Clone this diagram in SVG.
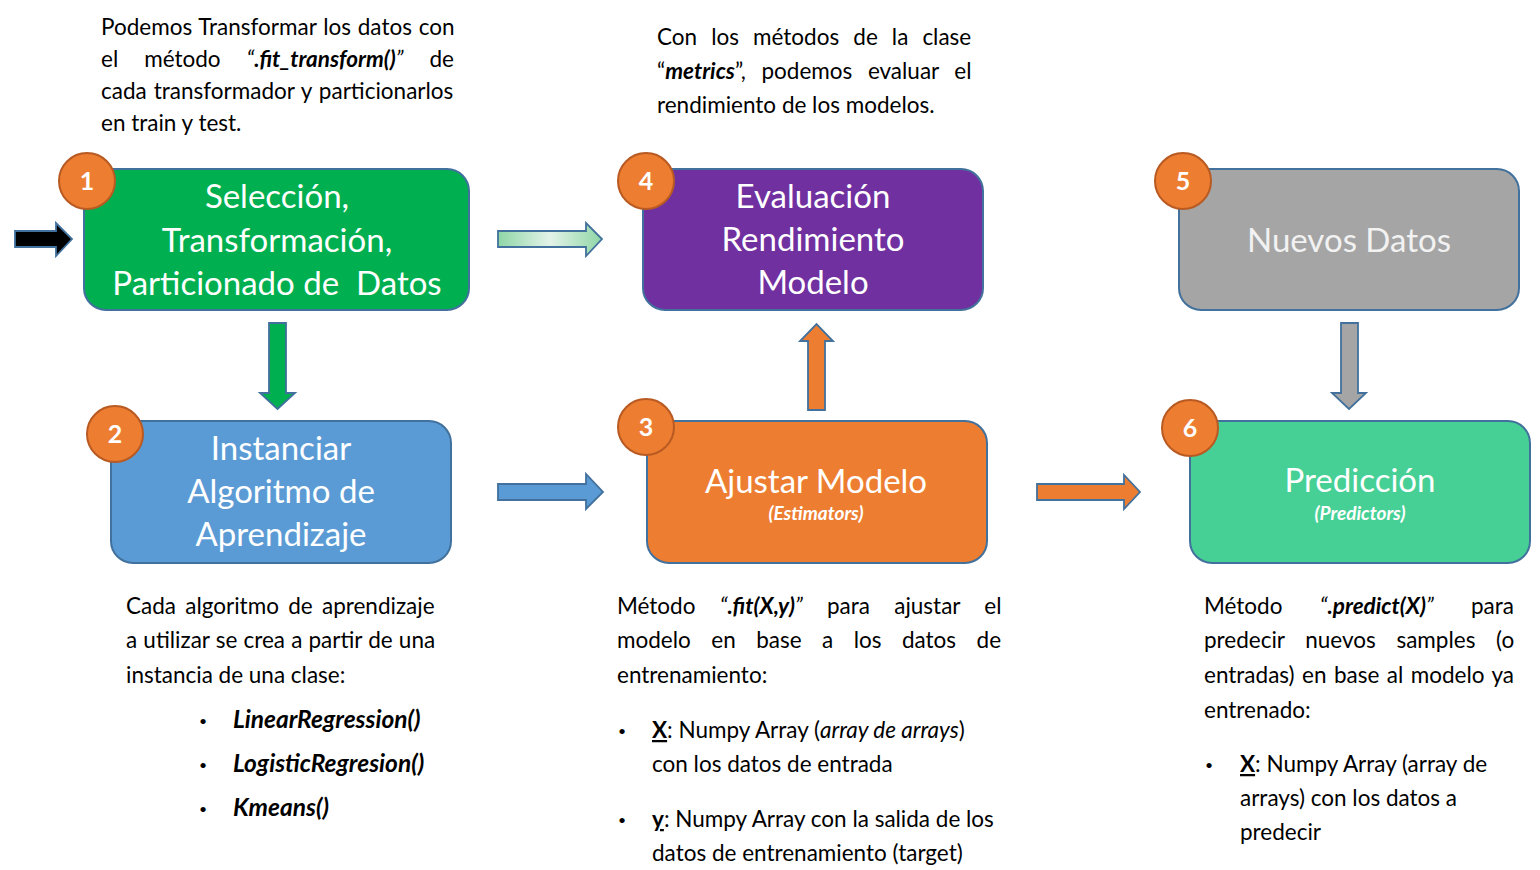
<svg xmlns="http://www.w3.org/2000/svg" width="1540" height="870" viewBox="0 0 1540 870">
<style>
.node{stroke:#41719C;stroke-width:2}
.badge circle{fill:#ED7D31;stroke:#B85A22;stroke-width:2}
.badge text{font-family:Lato,"Open Sans",sans-serif;font-weight:bold;font-size:25px;fill:#fff;text-anchor:middle}
.title{font-family:Lato,"Open Sans",sans-serif;font-size:33px;fill:#fff;text-anchor:middle}
.sub{font-family:Lato,"Open Sans",sans-serif;font-size:19px;font-weight:bold;font-style:italic;fill:#fff;text-anchor:middle}
.desc{font-family:Lato,"Open Sans",sans-serif;font-size:22.5px;fill:#000}
.bi{font-weight:bold;font-style:italic}
.big{font-size:24.5px}
.it{font-style:italic}
.bu{font-weight:bold;text-decoration:underline}
.dot{font-size:14px}
.arrow{stroke:#41719C;stroke-width:1.8}
</style>
<defs>
<linearGradient id="gg" x1="0" y1="0" x2="1" y2="0">
<stop offset="0" stop-color="#8FD6A6"/>
<stop offset="0.5" stop-color="#E3F3E8"/>
<stop offset="1" stop-color="#8FD6A6"/>
</linearGradient>
</defs>

<g id="connectors">
<polygon class="arrow" fill="#000" stroke="#203864" points="15,231 56,231 56,223 72,239 56,256 56,247 15,247"/>
<polygon class="arrow" fill="url(#gg)" points="498,231 586,231 586,223 602,239 586,256 586,247 498,247"/>
<polygon class="arrow" fill="#00B050" points="269,323 286,323 286,393 295,393 277.5,409 260,393 269,393"/>
<polygon class="arrow" fill="#5B9BD5" points="498,484 586,484 586,474 603,492 586,509 586,500 498,500"/>
<polygon class="arrow" fill="#ED7D31" points="808,410 825,410 825,341 833,341 816.5,324 800,341 808,341"/>
<polygon class="arrow" fill="#ED7D31" points="1037,484 1124,484 1124,475 1140,492 1124,509 1124,500 1037,500"/>
<polygon class="arrow" fill="#A5A5A5" points="1341,323 1358,323 1358,393 1366,393 1349,409 1332,393 1341,393"/>
</g>

<g id="node1">
<rect class="node" x="84" y="169" width="385" height="141" rx="22" fill="#00B050"/>
<text class="title" x="277" y="208">Selección,</text>
<text class="title" x="277" y="252">Transformación,</text>
<text class="title" x="277" y="295" xml:space="preserve">Particionado de  Datos</text>
<g class="badge"><circle cx="87" cy="181" r="28"/><text x="87" y="190">1</text></g>
</g>

<g id="node2">
<rect class="node" x="111" y="421" width="340" height="142" rx="22" fill="#5B9BD5"/>
<text class="title" x="281" y="460">Instanciar</text>
<text class="title" x="281" y="503">Algoritmo de</text>
<text class="title" x="281" y="546">Aprendizaje</text>
<g class="badge"><circle cx="115" cy="434" r="28"/><text x="115" y="443">2</text></g>
</g>

<g id="node3">
<rect class="node" x="647" y="421" width="340" height="142" rx="22" fill="#ED7D31"/>
<text class="title" x="816" y="493">Ajustar Modelo</text>
<text class="sub" x="816" y="520">(Estimators)</text>
<g class="badge"><circle cx="646" cy="427" r="28"/><text x="646" y="436">3</text></g>
</g>

<g id="node4">
<rect class="node" x="643" y="169" width="340" height="141" rx="22" fill="#7030A0"/>
<text class="title" x="813" y="208">Evaluación</text>
<text class="title" x="813" y="251">Rendimiento</text>
<text class="title" x="813" y="294">Modelo</text>
<g class="badge"><circle cx="646" cy="181" r="28"/><text x="646" y="190">4</text></g>
</g>

<g id="node5">
<rect class="node" x="1179" y="169" width="340" height="141" rx="22" fill="#A5A5A5"/>
<text class="title" x="1349" y="252" style="fill:#F2F2F2">Nuevos Datos</text>
<g class="badge"><circle cx="1183" cy="181" r="28"/><text x="1183" y="190">5</text></g>
</g>

<g id="node6">
<rect class="node" x="1190" y="421" width="340" height="142" rx="22" fill="#46D096"/>
<text class="title" x="1360" y="492">Predicción</text>
<text class="sub" x="1360" y="520">(Predictors)</text>
<g class="badge"><circle cx="1190" cy="428" r="28"/><text x="1190" y="437">6</text></g>
</g>

<g id="note-top-left" class="desc">
<text x="101" y="35" word-spacing="1">Podemos Transformar los datos con</text>
<text x="101" y="67" word-spacing="20.2">el método <tspan class="it">“</tspan><tspan class="bi">.fit_transform()</tspan><tspan class="it">”</tspan> de</text>
<text x="101" y="99" word-spacing="1.2">cada transformador y particionarlos</text>
<text x="101" y="131">en train y test.</text>
</g>

<g id="note-top-mid" class="desc">
<text x="657" y="45" word-spacing="8.3">Con los métodos de la clase</text>
<text x="657" y="79" word-spacing="9.8">“<tspan class="bi">metrics</tspan>”, podemos evaluar el</text>
<text x="657" y="113">rendimiento de los modelos.</text>
</g>

<g id="note-bottom-left" class="desc">
<text x="126" y="614" word-spacing="3.5">Cada algoritmo de aprendizaje</text>
<text x="126" y="648" word-spacing="0.4">a utilizar se crea a partir de una</text>
<text x="126" y="683">instancia de una clase:</text>
<text class="dot" x="199" y="726">•</text><text x="233" y="728" class="bi big">LinearRegression()</text>
<text class="dot" x="199" y="770">•</text><text x="233" y="772" class="bi big">LogisticRegresion()</text>
<text class="dot" x="199" y="814">•</text><text x="233" y="816" class="bi big">Kmeans()</text>
</g>

<g id="note-bottom-mid" class="desc">
<text x="617" y="614" word-spacing="18.5">Método <tspan class="it">“</tspan><tspan class="bi">.fit(X,y)</tspan><tspan class="it">”</tspan> para ajustar el</text>
<text x="617" y="648" word-spacing="14.7">modelo en base a los datos de</text>
<text x="617" y="683">entrenamiento:</text>
<text class="dot" x="618" y="736">•</text><text x="652" y="738"><tspan class="bu">X</tspan>: Numpy Array (<tspan class="it">array de arrays</tspan>)</text>
<text x="652" y="772">con los datos de entrada</text>
<text class="dot" x="618" y="825">•</text><text x="652" y="827"><tspan class="bu">y</tspan>: Numpy Array con la salida de los</text>
<text x="652" y="861">datos de entrenamiento (target)</text>
</g>

<g id="note-bottom-right" class="desc">
<text x="1204" y="614" word-spacing="31.5">Método <tspan class="it">“</tspan><tspan class="bi">.predict(X)</tspan><tspan class="it">”</tspan> para</text>
<text x="1204" y="648" word-spacing="14.9">predecir nuevos samples (o</text>
<text x="1204" y="683" word-spacing="1.7">entradas) en base al modelo ya</text>
<text x="1204" y="718">entrenado:</text>
<text class="dot" x="1205" y="770">•</text><text x="1240" y="772"><tspan class="bu">X</tspan>: Numpy Array (array de</text>
<text x="1240" y="806">arrays) con los datos a</text>
<text x="1240" y="840">predecir</text>
</g>
</svg>
